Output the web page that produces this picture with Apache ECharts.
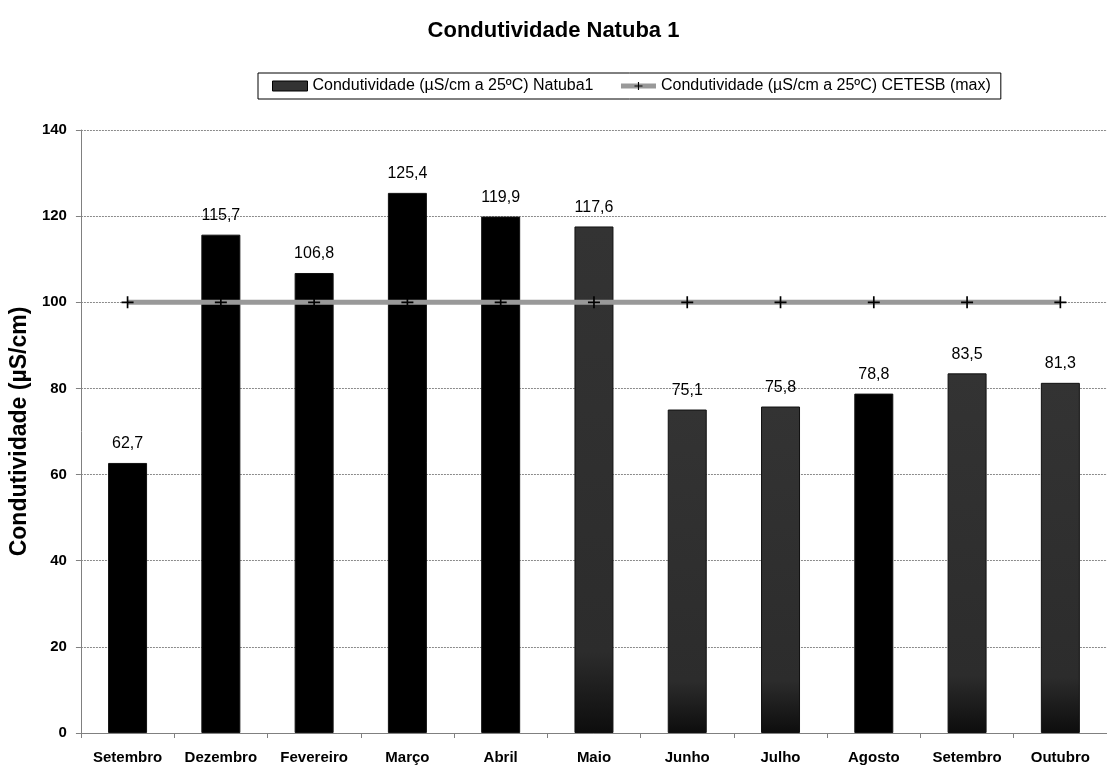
<!DOCTYPE html>
<html>
<head>
<meta charset="utf-8">
<script src="https://cdn.jsdelivr.net/npm/echarts@6/dist/echarts.min.js"></script>
<style>
  html, body { margin: 0; padding: 0; background: #fff; }
  #chart { width: 1107px; height: 767px; }
</style>
</head>
<body>
<div id="chart"></div>
<script>
// Monthly conductivity readings at Natuba 1 and the CETESB maximum
const months = ['Setembro', 'Dezembro', 'Fevereiro', 'Março', 'Abril', 'Maio',
                'Junho', 'Julho', 'Agosto', 'Setembro', 'Outubro'];
const natuba1 = [62.7, 115.7, 106.8, 125.4, 119.9, 117.6, 75.1, 75.8, 78.8, 83.5, 81.3];
const cetesbMax = [100, 100, 100, 100, 100, 100, 100, 100, 100, 100, 100];
const seriesNames = ['Condutividade (µS/cm a 25ºC) Natuba1', 'Condutividade (µS/cm a 25ºC) CETESB (max)'];

// fill style per bar: solid black or dark grey fading to near black at the base
const barFills = ['black', 'black', 'black', 'black', 'black', 'grey',
                  'grey', 'grey', 'black', 'grey', 'grey'];

const FONT = '"Liberation Sans", Arial, sans-serif';
const PLUS = 'path://M4.3,0H5.7V4.3H10V5.7H5.7V10H4.3V5.7H0V4.3H4.3Z';

function fillFor(kind) {
  if (kind === 'black') return '#000';
  return new echarts.graphic.LinearGradient(0, 0, 0, 1, [
    { offset: 0, color: '#333' },
    { offset: 0.84, color: '#2c2c2c' },
    { offset: 1, color: '#0d0d0d' }
  ]);
}

const chart = echarts.init(document.getElementById('chart'), null, { renderer: 'canvas' });

chart.setOption({
  backgroundColor: '#fff',
  animation: false,
  textStyle: { fontFamily: FONT },
  title: {
    text: 'Condutividade Natuba 1',
    left: 'center',
    top: 15,
    textStyle: { fontFamily: FONT, fontSize: 22, fontWeight: 'bold', color: '#000' }
  },
  legend: {
    top: 73,
    left: 258,
    padding: [5, 10, 5, 14],
    itemGap: 25,
    itemWidth: 35,
    itemHeight: 10,
    borderColor: '#000',
    borderWidth: 1,
    textStyle: { fontFamily: FONT, fontSize: 16, color: '#000' },
    data: [
      { name: seriesNames[0], icon: 'rect', itemStyle: { color: '#333', borderColor: '#000', borderWidth: 1 } },
      { name: seriesNames[1], itemStyle: { color: '#000' }, lineStyle: { color: '#999', width: 5 } }
    ]
  },
  grid: { left: 78, top: 130, width: 1039.5, height: 603 },
  xAxis: {
    type: 'category',
    data: months,
    boundaryGap: true,
    axisLine: { lineStyle: { color: '#808080', width: 1 } },
    axisTick: { show: true, length: 5, inside: false, lineStyle: { color: '#808080' } },
    axisLabel: { fontFamily: FONT, fontSize: 15, fontWeight: 'bold', color: '#000', margin: 17, interval: 0 }
  },
  yAxis: {
    type: 'value',
    min: 0,
    max: 140,
    interval: 20,
    name: 'Condutividade (µS/cm)',
    nameLocation: 'middle',
    nameGap: 48,
    nameRotate: 90,
    nameTextStyle: { fontFamily: FONT, fontSize: 23, fontWeight: 'bold', color: '#000' },
    axisLine: { show: true, lineStyle: { color: '#808080', width: 1 } },
    axisTick: { show: true, length: 5, lineStyle: { color: '#808080' } },
    axisLabel: { fontFamily: FONT, fontSize: 15, fontWeight: 'bold', color: '#000', margin: 14 },
    splitLine: { show: true, lineStyle: { color: '#8a8a8a', width: 1, type: [2, 1] } }
  },
  series: [
    {
      name: seriesNames[0],
      type: 'bar',
      barWidth: 39,
      z: 2,
      data: natuba1.map((v, i) => ({
        value: v,
        itemStyle: { color: fillFor(barFills[i]), borderColor: '#111', borderWidth: 1 }
      })),
      label: {
        show: true,
        position: 'top',
        distance: 11,
        fontFamily: FONT,
        fontSize: 16,
        color: '#000',
        formatter: p => p.value.toFixed(1).replace('.', ',')
      }
    },
    {
      name: seriesNames[1],
      type: 'line',
      z: 5,
      data: cetesbMax,
      symbol: PLUS,
      symbolSize: 12,
      itemStyle: { color: '#000' },
      lineStyle: { color: '#999', width: 5 }
    }
  ]
});
</script>
</body>
</html>
